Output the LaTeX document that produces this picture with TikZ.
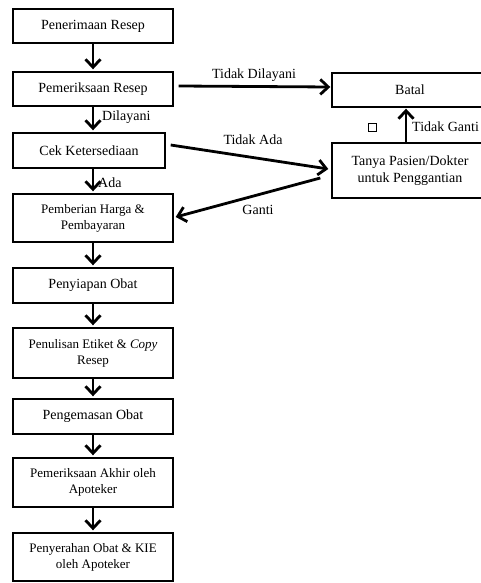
\documentclass[tikz,border=0pt]{standalone}
\usepackage{fontspec}
\setmainfont{Liberation Serif}
\usetikzlibrary{arrows.meta}
\tikzset{
  box/.style={draw=black, line width=1.4pt, rectangle, align=center, inner sep=2pt,
    font=\fontsize{14}{17}\selectfont, text=black},
  box2/.style={box, font=\fontsize{13}{16}\selectfont},
  flow/.style={line width=2.8pt, -{Straight Barb[length=8pt,width=15pt]}},
  lbl/.style={font=\fontsize{14}{17}\selectfont, inner sep=0pt, text=black},
}
\begin{document}
\begin{tikzpicture}[x=1pt,y=-1pt]
\useasboundingbox (0,0) rectangle (481,583);
\clip (0,0) rectangle (481,583);
\node[box, minimum width=160pt, minimum height=34pt] (n1) at (93,26) {Penerimaan Resep};
\node[box, minimum width=160pt, minimum height=34pt] (n2) at (93,89) {Pemeriksaan Resep};
\node[box, minimum width=152pt, minimum height=35pt] (n3) at (89,150.5) {Cek Ketersediaan};
\node[box2, minimum width=160pt, minimum height=48pt] (n4) at (93,218) {Pemberian Harga \&\\Pembayaran};
\node[box, minimum width=160pt, minimum height=35pt] (n5) at (93,285.5) {Penyiapan Obat};
\node[box2, minimum width=160pt, minimum height=50pt] (n6) at (93,353) {Penulisan Etiket \& \textit{Copy}\\Resep};
\node[box, minimum width=160pt, minimum height=35pt] (n7) at (93,416.5) {Pengemasan Obat};
\node[box2, minimum width=160pt, minimum height=49pt] (n8) at (93,482.5) {Pemeriksaan Akhir oleh\\Apoteker};
\node[box2, minimum width=160pt, minimum height=48pt] (n9) at (93,557) {Penyerahan Obat \& KIE\\oleh Apoteker};
\node[box, minimum width=156pt, minimum height=34pt] (batal) at (410,90) {Batal};
\node[box, minimum width=156pt, minimum height=55pt] (tanya) at (410,170.5) {Tanya Pasien/Dokter\\untuk Penggantian};

\draw[flow] (n1.south) -- ([yshift=2pt]n1.south |- n2.north);
\draw[flow] (n2.south) -- ([yshift=2pt]n2.south |- n3.north);
\draw[flow] (n2.south |- n3.south) -- ([yshift=2pt]n2.south |- n4.north);
\draw[flow] (n4.south) -- ([yshift=2pt]n5.north);
\draw[flow] (n5.south) -- ([yshift=2pt]n6.north);
\draw[flow] (n6.south) -- ([yshift=2pt]n7.north);
\draw[flow] (n7.south) -- ([yshift=2pt]n8.north);
\draw[flow] (n8.south) -- ([yshift=2pt]n9.north);

\draw[flow] ([shift={(5pt,3pt)}]n2.east) -- ([shift={(-1pt,3pt)}]batal.west);
\draw[flow] ([shift={(5pt,5.5pt)}]n3.east) -- ([shift={(-3pt,1.5pt)}]tanya.west);
\draw[flow] ([shift={(-11pt,-7.5pt)}]tanya.west) -- ([shift={(2pt,1pt)}]n4.east);
\draw[flow] (tanya.north -| 406,0) -- ([yshift=-1pt]batal.south -| 406,0);

\node[lbl] (l1) at (254,75) {Tidak Dilayani};
\node[lbl] (l2) at (253,140) {Tidak Ada};
\node[lbl] (l3) at (258,210) {Ganti};
\node[lbl, anchor=west] (l4) at (102,117) {Dilayani};
\node[lbl, anchor=west] (l5) at (98,183) {Ada};
\node[lbl, anchor=west] (l6) at (412,127) {Tidak Ganti};
\node[draw=black, line width=0.8pt, minimum size=8pt, inner sep=0pt] (sq) at (372,127) {};
\end{tikzpicture}
\end{document}
